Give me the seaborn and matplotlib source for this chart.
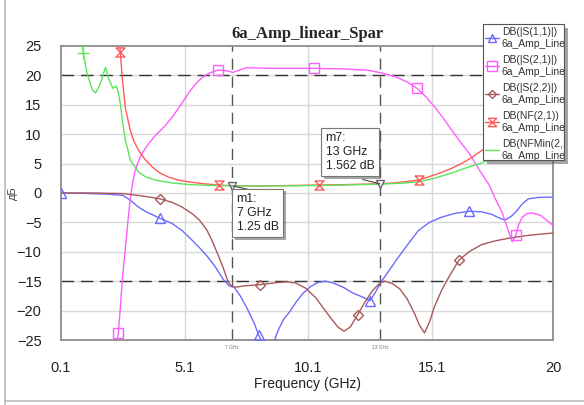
import numpy as np
import pandas as pd
import matplotlib
matplotlib.use("Agg")
import matplotlib.pyplot as plt
import seaborn as sns
from matplotlib.lines import Line2D
from matplotlib.patches import Rectangle
import matplotlib.patheffects as pe

# ---------------- data ----------------
s11_f = [0.1, 1.0, 2.0, 2.6, 2.9, 3.2, 3.5, 4.1, 4.6, 5.0, 5.3, 5.7, 6.0, 6.3, 6.65, 6.9, 7.1, 7.35,
         7.6, 7.9, 8.1, 8.3, 8.45, 8.65, 8.9, 9.1, 9.35, 9.6, 9.9, 10.2, 10.5, 10.8, 11.1, 11.5, 11.9,
         12.3, 12.6, 12.8, 13.05, 13.4, 13.75, 14.1, 14.55, 15.0, 15.5, 16.0, 16.6, 17.1, 17.5, 17.8,
         18.05, 18.3, 18.5, 18.75, 19.0, 19.4, 20.0]
s11_db = [0.0, -0.05, -0.2, -0.4, -1.2, -2.3, -3.1, -4.3, -5.2, -6.4, -7.6, -9.3, -10.7, -12.3, -14.6,
          -15.8, -16.0, -17.5, -19.4, -22.0, -24.2, -26.0, -27.0, -26.0, -23.2, -21.5, -20.2, -18.6,
          -17.0, -15.9, -15.2, -15.0, -15.3, -16.0, -17.0, -17.7, -18.3, -17.0, -15.1, -13.0, -10.9,
          -8.9, -6.4, -5.0, -4.1, -3.5, -3.1, -3.2, -3.6, -4.2, -4.6, -4.0, -3.2, -1.9, -1.0, -0.75, -0.7]

s21_f = [2.3, 2.42, 2.5, 2.58, 2.7, 2.8, 2.9, 3.0, 3.1, 3.25, 3.4, 3.65, 3.9, 4.3, 4.6, 5.0, 5.26, 5.55,
         5.83, 6.1, 6.44, 6.8, 7.05, 7.3, 7.6, 8.5, 10.35, 11.5, 12.5, 13.1, 13.6, 14.1, 14.5, 14.85,
         15.2, 15.55, 15.9, 16.25, 16.6, 16.85, 17.1, 17.4, 17.66, 17.95, 18.2, 18.35, 18.5, 18.6, 18.76,
         18.95, 19.17, 19.5, 20.0]
s21_db = [-27.0, -23.8, -19.5, -14.8, -9.5, -5.1, -1.0, 1.8, 3.9, 5.6, 6.9, 8.4, 9.7, 11.4, 12.9, 15.3,
          17.0, 18.6, 19.7, 20.4, 20.9, 20.8, 20.5, 20.9, 21.3, 21.2, 21.2, 21.1, 20.9, 20.4, 19.8, 18.9,
          17.8, 16.4, 14.7, 12.8, 10.7, 8.7, 6.8, 5.1, 3.4, 1.5, -0.9, -3.4, -6.5, -8.3, -7.2, -5.5, -4.1,
          -3.5, -3.4, -3.8, -5.5]

s22_f = [0.1, 1.5, 2.6, 3.2, 3.7, 4.1, 4.6, 5.0, 5.4, 5.7, 6.0, 6.2, 6.45, 6.65, 6.85, 7.0, 7.2, 7.5,
         8.15, 8.7, 9.2, 9.6, 10.0, 10.4, 10.7, 11.0, 11.3, 11.55, 11.8, 12.1, 12.4, 12.7, 13.0, 13.2,
         13.5, 13.8, 14.1, 14.4, 14.6, 14.8, 15.0, 15.2, 15.5, 15.8, 16.2, 16.6, 17.1, 17.6, 18.2, 19.0, 20.0]
s22_db = [0.0, 0.0, -0.1, -0.4, -0.7, -1.0, -1.6, -2.4, -3.5, -4.6, -6.3, -8.0, -10.5, -12.6, -15.0,
          -15.9, -16.0, -15.8, -15.6, -15.3, -15.1, -15.3, -16.2, -17.8, -19.5, -21.2, -22.8, -23.5,
          -22.8, -20.7, -18.5, -16.6, -15.3, -15.0, -15.4, -16.3, -18.0, -20.5, -22.5, -23.8, -22.0,
          -19.4, -16.5, -14.2, -11.4, -10.0, -8.8, -8.2, -7.7, -7.2, -6.8]

nf_f = [2.45, 2.5, 2.58, 2.7, 2.9, 3.05, 3.23, 3.5, 3.8, 4.1, 4.45, 4.85, 5.26, 5.8, 6.48, 7.0, 8.0, 9.0,
        10.5, 11.5, 12.3, 13.0, 13.5, 14.0, 14.57, 15.0, 15.5, 15.9, 16.3, 16.7, 17.25, 17.8, 18.5, 19.2, 20.0]
nf_db = [26.0, 24.0, 19.5, 14.5, 10.7, 8.8, 7.3, 5.7, 4.4, 3.4, 2.7, 2.2, 1.9, 1.6, 1.35, 1.25, 1.2,
         1.25, 1.35, 1.42, 1.5, 1.56, 1.7, 1.9, 2.2, 2.8, 3.5, 4.2, 5.0, 6.0, 7.6, 9.0, 10.5, 11.5, 12.5]

nfmin_f = [0.95, 1.0, 1.15, 1.36, 1.5, 1.7, 1.9, 2.0, 2.2, 2.34, 2.42, 2.5, 2.58, 2.7, 2.78, 2.9, 3.23,
           3.5, 3.9, 4.6, 5.26, 6.0, 7.0, 9.0, 11.0, 13.0, 14.0, 14.57, 15.2, 15.9, 16.5, 17.1, 17.8,
           18.6, 19.3, 20.0]
nfmin_db = [26.0, 23.8, 20.4, 17.6, 17.0, 18.7, 21.4, 19.7, 17.8, 18.2, 17.0, 15.2, 12.4, 9.0, 7.8, 5.6,
            3.6, 2.8, 2.2, 1.7, 1.45, 1.3, 1.22, 1.2, 1.3, 1.5, 1.7, 1.9, 2.5, 3.4, 4.3, 5.1, 6.2, 7.3,
            8.2, 9.0]

# marker positions along each trace (GHz)
s11_mk = [0.1, 4.1, 8.1, 12.6, 16.6]
s21_mk = [2.42, 6.44, 10.35, 14.5, 18.5]
s22_mk = [4.1, 8.15, 12.1, 16.2]
nf_mk = [2.5, 6.48, 10.55, 14.57, 18.5]
nfmin_mk = [1.0]

trace_names = ["DB(|S(1,1)|)", "DB(|S(2,1)|)", "DB(|S(2,2)|)", "DB(NF(2,1))", "DB(NFMin(2,1))"]
dataset_name = "6a_Amp_Linear"
x_ticks = [0.1, 5.1, 10.1, 15.1, 20]
x_ticklabels = ["0.1", "5.1", "10.1", "15.1", "20"]
y_ticks = [-25, -20, -15, -10, -5, 0, 5, 10, 15, 20, 25]
limit_lines = [20, -15]
marker_freqs = [7, 13]
marker_names = ["m1", "m7"]
marker_vals = [1.25, 1.562]
marker_tick_labels = ["7 GHz", "13 GHz"]

colors = ["#6b6bff", "#ff5cff", "#a85a5a", "#ff5a5a", "#5ce65c"]
mk_styles = ["^", "s", "D", [(-1, 1), (1, 1), (-1, -1), (1, -1), (-1, 1)], "+"]
mk_sizes = [6.5, 7, 5, 6.5, 8]

series = [(s11_f, s11_db, s11_mk), (s21_f, s21_db, s21_mk), (s22_f, s22_db, s22_mk),
          (nf_f, nf_db, nf_mk), (nfmin_f, nfmin_db, nfmin_mk)]

frames = []
for name, (f, d, _) in zip(trace_names, series):
    frames.append(pd.DataFrame({"freq": f, "db": d, "trace": name}))
df = pd.concat(frames, ignore_index=True)

# ---------------- figure ----------------
sns.set_theme(style="white")
plt.rcParams["font.family"] = ["Liberation Sans", "DejaVu Sans"]

fig = plt.figure(figsize=(5.84, 4.05), dpi=100)
ax = fig.add_axes([61 / 584, 1 - 340 / 405, 492 / 584, 294 / 405])

ax.set_xlim(0.1, 20)
ax.set_ylim(-25, 25)

# grid
for xv in x_ticks[1:-1]:
    ax.axvline(xv, color="#d8d8d8", lw=1.0, zorder=0)
for yv in y_ticks[1:-1]:
    ax.axhline(yv, color="#d8d8d8", lw=1.0, zorder=0)
for yv in limit_lines:
    ax.axhline(yv, color="#333333", lw=1.0, ls=(0, (9, 5)), zorder=1)
for xv in marker_freqs:
    ax.axvline(xv, color="#555555", lw=1.0, ls=(0, (8, 5)), zorder=1)

sns.lineplot(data=df, x="freq", y="db", hue="trace", palette=dict(zip(trace_names, colors)),
             estimator=None, sort=False, legend=False, lw=1.0, ax=ax, zorder=3)

for (f, d, mk), c, m, s in zip(series, colors, mk_styles, mk_sizes):
    ys = np.interp(mk, f, d)
    ax.plot(mk, ys, ls="none", marker=m, ms=s, mfc="none", mec=c, mew=1.0,
            zorder=4, clip_on=True)

# marker triangles and readouts
ax.plot(marker_freqs, marker_vals, ls="none", marker="v", ms=6, mfc="white", mec="#666666",
        mew=1.0, zorder=5)
box_pos = [(7.2, 0.0), (10.8, 10.3)]
conn_pos = [(8.0, 0.3), (12.3, 2.3)]
for name, f, v, (bx, by), (cx, cy) in zip(marker_names, marker_freqs, marker_vals, box_pos, conn_pos):
    ax.plot([f, cx], [v, cy], color="#444444", lw=0.8, zorder=5)
    t = ax.text(bx, by, f"{name}:\n{f} GHz\n{v} dB", fontsize=8.8, va="top", ha="left",
                linespacing=1.2, color="#222222", zorder=6,
                bbox=dict(boxstyle="square,pad=0.35", fc="white", ec="#777777", lw=0.8))
    t.get_bbox_patch().set_path_effects([pe.SimplePatchShadow(offset=(2, -2), alpha=0.5),
                                         pe.Normal()])

for f, lab in zip(marker_freqs, marker_tick_labels):
    ax.text(f, -25.8, lab, fontsize=3.5, color="#777777", ha="center", va="top")

# axes styling
ax.set_xticks(x_ticks)
ax.set_xticklabels(x_ticklabels)
ax.set_yticks(y_ticks)
ax.tick_params(axis="both", length=0, labelsize=10.5, labelcolor="#222222")
ax.tick_params(axis="x", pad=15)
ax.tick_params(axis="y", pad=14)
for sp in ax.spines.values():
    sp.set_color("#8c8c8c")
    sp.set_linewidth(1.3)

ax.set_xlabel("Frequency (GHz)", fontsize=10, color="#222222")
ax.xaxis.set_label_coords(0.5, -0.125)
ax.set_ylabel("дБ", fontsize=8, color="#444444")
ax.yaxis.set_label_coords(-0.087, 0.5)
ax.set_title("6a_Amp_linear_Spar", fontsize=12, fontweight="bold",
             family=["Liberation Serif", "DejaVu Serif"], pad=6)

# legend with custom frame
frame = Rectangle((483 / 584, 1 - 160 / 405), 81 / 584, 136 / 405, transform=fig.transFigure,
                  fc="white", ec="#555555", lw=0.8, zorder=10)
frame.set_path_effects([pe.SimplePatchShadow(offset=(3, -3), alpha=0.5), pe.Normal()])
fig.add_artist(frame)
handles = [Line2D([], [], color=c, lw=1.0, marker=m, ms=s - 0.5, mfc="none", mec=c)
           for c, m, s in zip(colors[:4], mk_styles[:4], mk_sizes[:4])]
handles.append(Line2D([], [], color=colors[4], lw=1.0))
labels = [f"{n}\n{dataset_name}" for n in trace_names]
leg = fig.legend(handles, labels, loc="upper left", bbox_to_anchor=(484 / 584, 1 - 26 / 405),
                 frameon=False, fontsize=7.5, handlelength=1.3, handletextpad=0.3,
                 borderpad=0.1, borderaxespad=0, labelspacing=0.62)
leg.set_zorder(11)
for t in leg.get_texts():
    t.set_color("#333333")
    t.set_clip_path(frame)

# outer frame of the screenshot
fig.add_artist(Line2D([5 / 584, 5 / 584], [0, 1], transform=fig.transFigure, color="#bbbbbb", lw=1.2))
fig.add_artist(Line2D([5 / 584, 1], [4 / 405, 4 / 405], transform=fig.transFigure, color="#bbbbbb", lw=1.2))

fig.savefig("out.png", dpi=100)
